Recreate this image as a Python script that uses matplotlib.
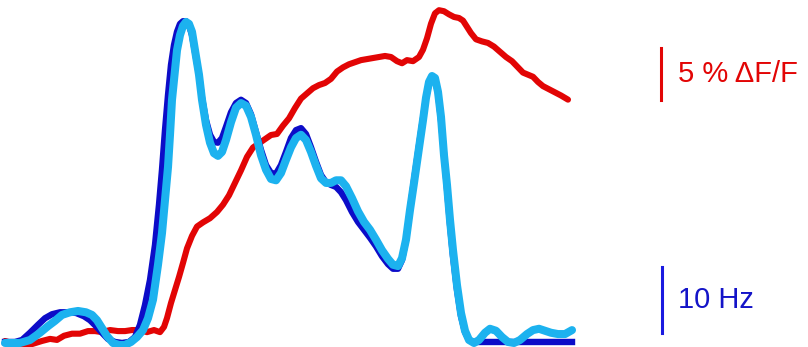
import numpy as np
import matplotlib
matplotlib.use("Agg")
import matplotlib.pyplot as plt

plt.rcParams['font.family'] = ['Liberation Sans', 'DejaVu Sans']

# firing rate, recorded cell (Hz)
t_rec = [0.0, 0.05, 0.085, 0.125, 0.165, 0.20, 0.235, 0.275, 0.315, 0.355,
         0.395, 0.425, 0.455, 0.485, 0.515, 0.55, 0.585, 0.62, 0.65, 0.675,
         0.70, 0.725, 0.75, 0.77, 0.785, 0.80, 0.815, 0.83, 0.845, 0.86,
         0.875, 0.89, 0.905, 0.92, 0.935, 0.95, 0.97, 0.985, 1.005, 1.025,
         1.045, 1.065, 1.085, 1.105, 1.13, 1.155, 1.18, 1.205, 1.23, 1.255,
         1.28, 1.305, 1.33, 1.355, 1.38, 1.405, 1.43, 1.455, 1.48, 1.505,
         1.53, 1.555, 1.58, 1.605, 1.63, 1.655, 1.68, 1.705, 1.735, 1.765,
         1.795, 1.825, 1.855, 1.885, 1.915, 1.94, 1.965, 1.985, 2.005, 2.025,
         2.045, 2.07, 2.09, 2.105, 2.12, 2.135, 2.15, 2.165, 2.18, 2.195,
         2.21, 2.225, 2.24, 2.26, 2.28, 2.30, 2.32, 2.345, 2.835]
rate_rec = [0.0, 0.0, 0.3, 1.4, 2.6, 3.6, 4.2, 4.5, 4.5, 4.4,
            3.9, 3.3, 2.4, 1.4, 0.45, 0.0, -0.15, 0.0, 0.75, 2.6,
            5.6, 9.4, 14.7, 20.8, 26.1, 32.1, 37.4, 42.0, 45.0, 47.0,
            48.2, 48.6, 48.6, 48.0, 46.5, 43.9, 40.5, 37.0, 33.6, 31.4,
            30.3, 30.2, 30.9, 32.6, 34.8, 36.2, 36.7, 36.2, 34.5, 31.8,
            29.1, 26.8, 25.6, 25.5, 26.8, 28.8, 30.9, 32.1, 32.4, 31.5,
            29.5, 27.3, 25.3, 24.2, 23.8, 23.5, 22.7, 21.5, 19.7, 18.2,
            17.0, 15.8, 14.5, 13.0, 11.8, 11.1, 11.1, 12.4, 15.5, 20.0,
            24.5, 29.8, 33.9, 37.0, 39.1, 40.0, 39.7, 37.8, 33.6, 28.5,
            23.2, 17.8, 13.0, 7.9, 3.9, 1.5, 0.3, 0.0, 0.0]

# firing rate, estimated from fluorescence (Hz)
t_est = [0.0, 0.075, 0.125, 0.175, 0.215, 0.25, 0.285, 0.325, 0.365, 0.405,
         0.435, 0.46, 0.485, 0.51, 0.54, 0.57, 0.60, 0.63, 0.66, 0.69,
         0.715, 0.74, 0.765, 0.785, 0.80, 0.815, 0.825, 0.835, 0.85, 0.86,
         0.875, 0.89, 0.905, 0.92, 0.935, 0.95, 0.97, 0.985, 1.005, 1.025,
         1.045, 1.065, 1.085, 1.105, 1.13, 1.155, 1.18, 1.205, 1.23, 1.255,
         1.28, 1.305, 1.33, 1.355, 1.38, 1.405, 1.43, 1.455, 1.48, 1.505,
         1.53, 1.555, 1.58, 1.605, 1.63, 1.655, 1.68, 1.705, 1.735, 1.765,
         1.795, 1.825, 1.855, 1.885, 1.915, 1.94, 1.965, 1.985, 2.005, 2.025,
         2.045, 2.07, 2.09, 2.105, 2.12, 2.135, 2.15, 2.165, 2.18, 2.195,
         2.21, 2.225, 2.24, 2.26, 2.28, 2.30, 2.32, 2.345, 2.37, 2.40,
         2.425, 2.455, 2.485, 2.515, 2.545, 2.575, 2.61, 2.64, 2.67, 2.70,
         2.73, 2.765, 2.80, 2.835]
rate_est = [-0.15, -0.15, 0.3, 1.4, 2.4, 3.2, 4.1, 4.5, 4.7, 4.5,
            4.1, 3.3, 2.1, 0.9, -0.15, -0.45, -0.45, 0.0, 0.75, 1.8,
            3.6, 6.4, 11.7, 16.5, 21.5, 26.5, 31.4, 36.7, 41.2, 44.2,
            46.5, 47.9, 48.5, 48.2, 47.0, 44.2, 40.5, 36.7, 32.9, 30.2,
            28.6, 28.2, 28.8, 30.6, 33.3, 35.5, 36.2, 35.8, 34.1, 31.4,
            28.3, 26.1, 24.7, 24.5, 25.6, 27.6, 29.5, 30.9, 31.4, 30.6,
            28.8, 26.7, 24.8, 24.1, 24.1, 24.5, 24.5, 23.6, 21.8, 19.8,
            18.2, 17.0, 15.5, 13.9, 12.6, 11.7, 11.5, 12.7, 15.5, 20.0,
            24.1, 29.4, 33.6, 37.0, 39.4, 40.3, 40.0, 37.9, 34.1, 28.3,
            23.8, 18.5, 13.9, 8.6, 4.4, 1.7, 0.3, -0.15, 0.3, 1.4,
            2.0, 1.7, 0.75, 0.0, -0.15, 0.3, 1.2, 1.8, 2.0, 1.7,
            1.4, 1.2, 1.2, 1.8]

# calcium signal (% dF/F)
t_ca = [0.0, 0.035, 0.085, 0.135, 0.185, 0.225, 0.26, 0.295, 0.335, 0.375,
        0.415, 0.45, 0.485, 0.525, 0.565, 0.60, 0.635, 0.675, 0.71, 0.745,
        0.775, 0.795, 0.81, 0.83, 0.85, 0.87, 0.89, 0.91, 0.935, 0.96,
        0.99, 1.025, 1.06, 1.09, 1.12, 1.15, 1.18, 1.21, 1.24, 1.27,
        1.30, 1.33, 1.36, 1.39, 1.42, 1.45, 1.48, 1.51, 1.54, 1.57,
        1.60, 1.63, 1.66, 1.69, 1.72, 1.75, 1.78, 1.81, 1.84, 1.87,
        1.90, 1.93, 1.96, 1.985, 2.01, 2.04, 2.07, 2.09, 2.11, 2.13,
        2.15, 2.17, 2.195, 2.22, 2.245, 2.27, 2.29, 2.31, 2.33, 2.355,
        2.385, 2.415, 2.445, 2.475, 2.505, 2.535, 2.565, 2.59, 2.615, 2.64,
        2.665, 2.69, 2.72, 2.75, 2.78, 2.815]
dff = [0.1, -0.1, -0.2, -0.2, 0.1, 0.3, 0.2, 0.6, 0.8, 0.8,
       1.05, 1.05, 0.95, 1.15, 1.05, 1.05, 1.15, 1.15, 0.95, 1.15,
       0.95, 1.45, 2.3, 3.75, 5.0, 6.25, 7.6, 9.0, 10.2, 11.1,
       11.5, 11.9, 12.5, 13.2, 14.1, 15.3, 16.5, 17.8, 18.7, 19.1,
       19.5, 19.9, 20.0, 20.8, 21.5, 22.5, 23.4, 23.9, 24.4, 24.7,
       24.9, 25.3, 26.0, 26.4, 26.7, 26.9, 27.1, 27.2, 27.3, 27.4,
       27.5, 27.4, 27.0, 26.8, 27.1, 27.0, 27.4, 28.1, 29.2, 30.6,
       31.6, 31.9, 31.8, 31.5, 31.25, 31.15, 30.9, 30.3, 29.7, 29.1,
       28.9, 28.75, 28.4, 27.9, 27.4, 27.0, 26.4, 25.9, 25.7, 25.5,
       25.0, 24.6, 24.3, 24.0, 23.7, 23.3]

# scale bars
bar_t = 3.28
dff_bar = (23.3, 28.3)
rate_bar = (1.4, 11.4)

red = '#e20505'
dark_blue = '#0c0cc8'
light_blue = '#1cb2ef'

fig = plt.figure(figsize=(8.08, 3.47), dpi=100)
ax = fig.add_axes([0, 0, 1, 1])
ax2 = ax.twinx()

ax.set_xlim(-0.025, 4.015)
ax.set_ylim(-0.76, 51.82)
ax2.set_ylim(-0.48, 32.88)

ax2.plot(t_ca, dff, color=red, lw=4.4, solid_joinstyle='round',
         solid_capstyle='round')
ax.plot(t_rec, rate_rec, color=dark_blue, lw=4.6, solid_joinstyle='round')
ax.plot(t_est, rate_est, color=light_blue, lw=5.8, solid_joinstyle='round',
        solid_capstyle='round')

ax2.plot([bar_t, bar_t], dff_bar, color=red, lw=2.2)
ax2.text(bar_t + 0.085, np.mean(dff_bar), '5 % \u0394F/F', color=red,
         fontsize=21, va='center', ha='left')
ax.plot([bar_t + 0.005, bar_t + 0.005], rate_bar, color='#1a1ae0', lw=2.2)
ax.text(bar_t + 0.085, np.mean(rate_bar), '10 Hz', color='#1414c8',
        fontsize=21, va='center', ha='left')

# put the rate traces above the calcium trace
ax.set_zorder(ax2.get_zorder() + 1)
ax.patch.set_visible(False)
ax.axis('off')
ax2.axis('off')

fig.savefig('out.png', dpi=100)
